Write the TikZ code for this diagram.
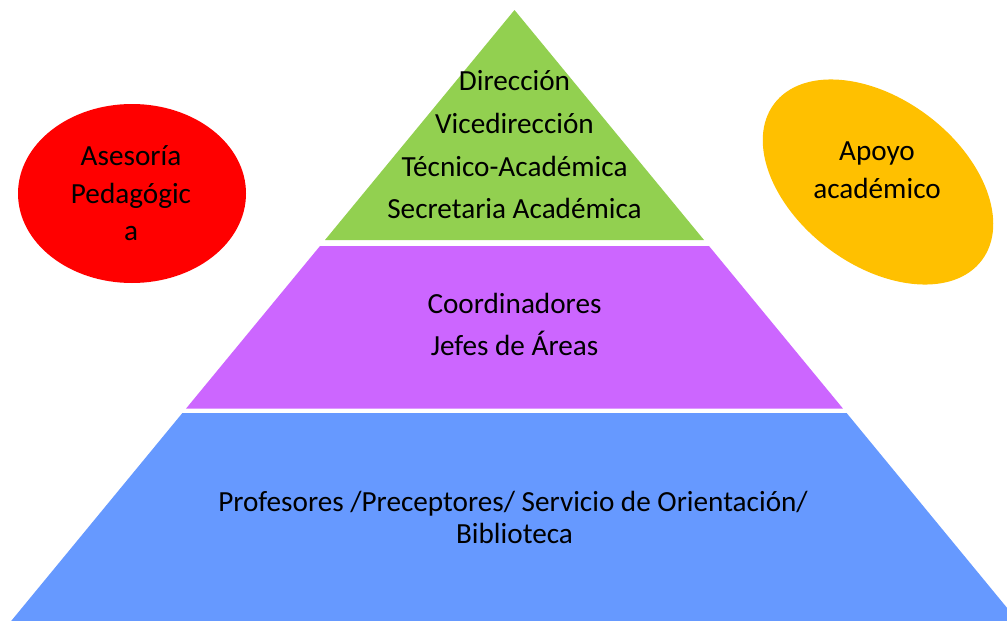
\documentclass[tikz,border=0pt]{standalone}
\usepackage{fontspec}
\setmainfont{Carlito}
\definecolor{cgreen}{HTML}{92D050}
\definecolor{cpurple}{HTML}{CC66FF}
\definecolor{cblue}{HTML}{6699FF}
\definecolor{cred}{HTML}{FF0000}
\definecolor{cyellow}{HTML}{FFC000}
\begin{document}
\begin{tikzpicture}[x=1pt,y=-1pt,
  txt/.style={anchor=base,inner sep=0pt,text=black,font=\fontsize{29.2}{35}\selectfont}]
\useasboundingbox (0,0) rectangle (1007,621);
\clip (0,0) rectangle (1007,621);
% pyramid bands
\fill[cgreen] (514.5,10) -- (325,240) -- (704,240) -- cycle;
\fill[cpurple] (320,246) -- (709,246) -- (842.9,408.5) -- (186.1,408.5) -- cycle;
\fill[cblue] (182.4,413) -- (846.6,413) -- (1033.5,640) -- (-4.5,640) -- cycle;
% side ellipses
\fill[cred] (132,193.5) ellipse [x radius=114, y radius=89.5];
\fill[cyellow, rotate around={-37:(878,182)}] (878,182) ellipse [x radius=130, y radius=83];
% top
\node[txt] (t1) at (514.5,90) {Dirección};
\node[txt] (t2) at (514.5,133) {Vicedirección};
\node[txt] (t3) at (514.5,176) {Técnico-Académica};
\node[txt] (t4) at (514.5,218) {Secretaria Académica};
% middle
\node[txt] (m1) at (514.5,313) {Coordinadores};
\node[txt] (m2) at (514.5,355) {Jefes de Áreas};
% bottom
\node[txt] (b1) at (513,511.5) {Profesores /Preceptores/ Servicio de Orientación/};
\node[txt] (b2) at (514.5,543.5) {Biblioteca};
% red
\node[txt] (r1) at (131,165) {Asesoría};
\node[txt] (r2) at (131,203) {Pedagógic};
\node[txt] (r3) at (131,240) {a};
% yellow
\node[txt] (y1) at (877,160) {Apoyo};
\node[txt] (y2) at (877,198) {académico};
\end{tikzpicture}
\end{document}
